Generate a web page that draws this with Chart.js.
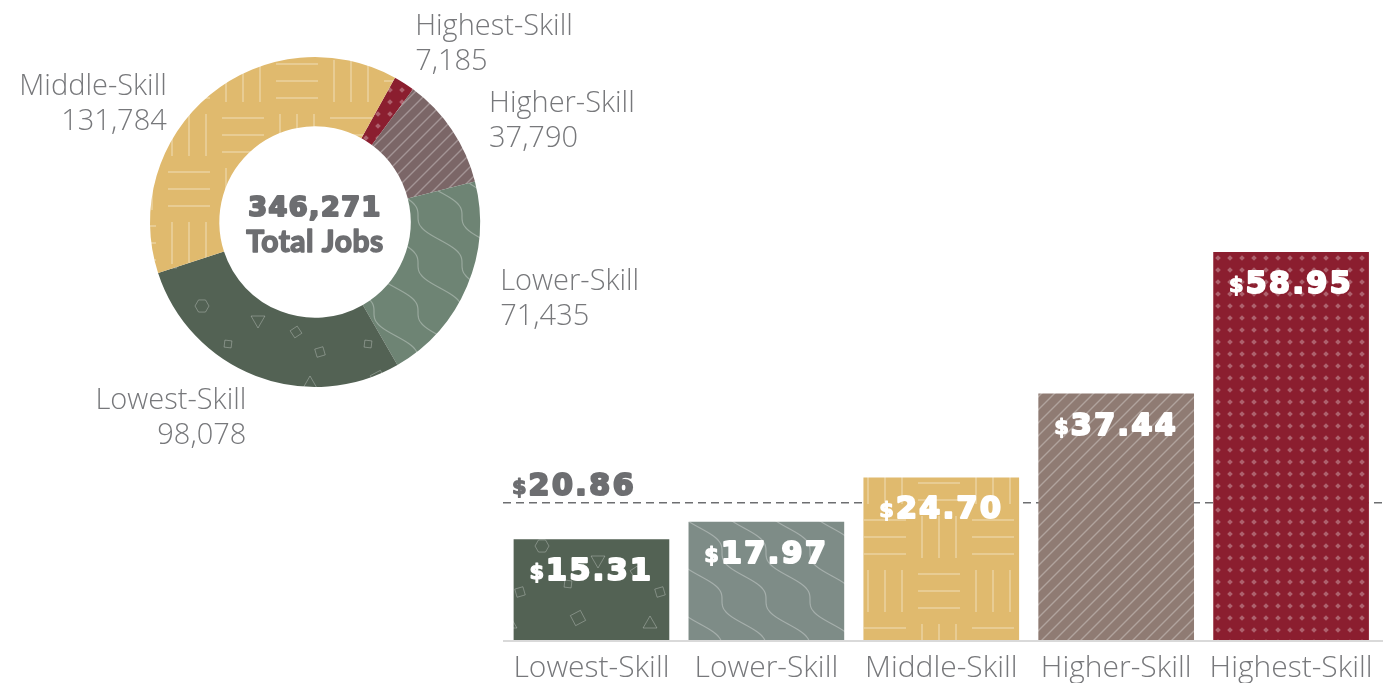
<!DOCTYPE html>
<html>
<head>
<meta charset="utf-8">
<script src="https://cdn.jsdelivr.net/npm/chart.js@4"></script>
<style>
  html, body { margin: 0; padding: 0; background: #fff; }
  body { width: 1383px; height: 683px; position: relative; overflow: hidden; }
  #donutWrap { position: absolute; left: 0; top: 0; width: 700px; height: 460px; }
  #barWrap { position: absolute; left: 480px; top: 240px; width: 903px; height: 456px; }
</style>
</head>
<body>
<div id="donutWrap"><canvas id="jobsDonut" width="700" height="460"></canvas></div>
<div id="barWrap"><canvas id="wageBars" width="903" height="456"></canvas></div>
<script>
// data
var categories = ["Lowest-Skill", "Lower-Skill", "Middle-Skill", "Higher-Skill", "Highest-Skill"];
var jobs = [98078, 71435, 131784, 37790, 7185];
var wages = [15.31, 17.97, 24.70, 37.44, 58.95];
var averageWage = 20.86;
var totalJobs = 346271;
// slice order in the doughnut, clockwise starting from the red slice
var donutOrder = [4, 3, 1, 0, 2];

// styles
var donutColors = ["#536254", "#6e8474", "#e0ba6e", "#7b6667", "#8b1e2f"];
var barColors = ["#536254", "#7e8c87", "#e0ba6e", "#8f7b73", "#8b1e2f"];
var labelColor = "#77787b";
var darkText = "#6d6e71";
var labelFamily = '"Open Sans", "Lato", sans-serif';
var labelFont = '300 29px ' + labelFamily;
// small nudges for the doughnut labels (x, y)
var labelNudge = [[3, 9], [1, -1], [-21, 36], [8, 10], [-8, -10]];

// ---- fill patterns ----
function tile(w, h, bg, draw) {
    var c = document.createElement("canvas");
    c.width = w; c.height = h;
    var g = c.getContext("2d");
    g.fillStyle = bg;
    g.fillRect(0, 0, w, h);
    draw(g, w, h);
    return g.createPattern(c, "repeat");
}

function poly(g, cx, cy, r, n, rot) {
    g.beginPath();
    for (var i = 0; i < n; i++) {
        var a = rot + i * 2 * Math.PI / n;
        var x = cx + r * Math.cos(a), y = cy + r * Math.sin(a);
        if (i === 0) g.moveTo(x, y); else g.lineTo(x, y);
    }
    g.closePath();
    g.stroke();
}

function shapes(g, w, h) {
    g.strokeStyle = "rgba(255,255,255,0.28)";
    g.lineWidth = 1;
    poly(g, 30, 24, 8, 3, -Math.PI / 2);
    poly(g, 98, 18, 8, 4, 0.3);
    poly(g, 62, 66, 7, 6, 0);
    poly(g, 16, 92, 6, 4, 0.2);
    poly(g, 118, 80, 8, 3, Math.PI / 2);
    poly(g, 88, 104, 5, 4, 0.9);
    poly(g, 40, 112, 6, 4, 0.5);
    poly(g, 130, 48, 5, 4, 0.1);
}

function waves(g, w, h) {
    g.strokeStyle = "rgba(255,255,255,0.3)";
    g.lineWidth = 1.2;
    for (var k = -2; k <= 2; k++) {
        g.beginPath();
        for (var y = -2; y <= h + 2; y++) {
            var x = k * w + (w / h) * y + 7 * Math.sin(2 * Math.PI * y / h);
            if (y === -2) g.moveTo(x, y); else g.lineTo(x, y);
        }
        g.stroke();
    }
}

function parquet(g, w, h) {
    g.strokeStyle = "rgba(255,255,255,0.35)";
    g.lineWidth = 1.5;
    var half = w / 2;
    var blocks = [[0, 0, true], [half, 0, false], [0, half, false], [half, half, true]];
    blocks.forEach(function(b) {
        [10, 27, 44].forEach(function(o) {
            g.beginPath();
            if (b[2]) { g.moveTo(b[0] + 6, b[1] + o); g.lineTo(b[0] + half - 6, b[1] + o); }
            else { g.moveTo(b[0] + o, b[1] + 6); g.lineTo(b[0] + o, b[1] + half - 6); }
            g.stroke();
        });
    });
}

function stripes(g, s) {
    g.strokeStyle = "rgba(255,255,255,0.3)";
    g.lineWidth = 1.4;
    [[0, s, s, 0], [-2, 2, 2, -2], [s - 2, s + 2, s + 2, s - 2]].forEach(function(l) {
        g.beginPath(); g.moveTo(l[0], l[1]); g.lineTo(l[2], l[3]); g.stroke();
    });
}

function diamonds(g, s) {
    g.fillStyle = "rgba(255,255,255,0.3)";
    var c = s / 2;
    g.beginPath();
    g.moveTo(c, c - 2.8); g.lineTo(c + 2.8, c); g.lineTo(c, c + 2.8); g.lineTo(c - 2.8, c);
    g.closePath(); g.fill();
}

function makeFills(colors) {
    return [
        tile(140, 120, colors[0], shapes),
        tile(44, 48, colors[1], waves),
        tile(108, 108, colors[2], parquet),
        tile(13, 13, colors[3], function(g) { stripes(g, 13); }),
        tile(12, 12, colors[4], function(g) { diamonds(g, 12); })
    ];
}

var donutFills = makeFills(donutColors);
var barFills = makeFills(barColors);

// heavy text: fill plus a stroke of the same colour
function heavyText(ctx, text, x, y, weight) {
    ctx.lineWidth = weight;
    ctx.lineJoin = "round";
    ctx.strokeStyle = ctx.fillStyle;
    ctx.strokeText(text, x, y);
    ctx.fillText(text, x, y);
}

function setSpacing(ctx, v) {
    if ("letterSpacing" in ctx) ctx.letterSpacing = v;
}

// ---- doughnut ----
var donutLabels = {
    id: "donutLabels",
    afterDraw: function(chart) {
        var ctx = chart.ctx;
        var meta = chart.getDatasetMeta(0);
        ctx.save();
        meta.data.forEach(function(arc, i) {
            var cat = donutOrder[i];
            var mid = (arc.startAngle + arc.endAngle) / 2;
            var r = arc.outerRadius + 35;
            var x = arc.x + Math.cos(mid) * r + labelNudge[cat][0];
            var y = arc.y + Math.sin(mid) * r + labelNudge[cat][1];
            ctx.font = labelFont;
            ctx.fillStyle = labelColor;
            ctx.textAlign = Math.cos(mid) >= 0 ? "left" : "right";
            ctx.textBaseline = "middle";
            ctx.fillText(categories[cat], x, y - 17);
            ctx.fillText(jobs[cat].toLocaleString("en-US"), x, y + 18);
        });
        // centre text
        var cx = meta.data[0].x, cy = meta.data[0].y;
        ctx.textAlign = "center";
        ctx.fillStyle = darkText;
        ctx.font = 'bold 27px "DejaVu Sans", sans-serif';
        setSpacing(ctx, "1.5px");
        heavyText(ctx, totalJobs.toLocaleString("en-US"), cx, cy - 13, 2.2);
        setSpacing(ctx, "0.5px");
        ctx.font = 'bold 30px "Lato", sans-serif';
        heavyText(ctx, "Total Jobs", cx, cy + 20, 1.5);
        setSpacing(ctx, "0px");
        ctx.restore();
    }
};

new Chart(document.getElementById("jobsDonut").getContext("2d"), {
    type: "doughnut",
    data: {
        labels: donutOrder.map(function(i) { return categories[i]; }),
        datasets: [{
            data: donutOrder.map(function(i) { return jobs[i]; }),
            backgroundColor: donutOrder.map(function(i) { return donutFills[i]; }),
            borderWidth: 0
        }]
    },
    options: {
        responsive: false,
        animation: false,
        events: [],
        rotation: 29,
        cutout: "58%",
        layout: { padding: { left: 150, right: 220, top: 57, bottom: 73 } },
        plugins: { legend: { display: false }, tooltip: { enabled: false } }
    },
    plugins: [donutLabels]
});

// ---- bars ----
var wageExtras = {
    id: "wageExtras",
    beforeDatasetsDraw: function(chart) {
        var ctx = chart.ctx, area = chart.chartArea;
        var y = chart.scales.y.getPixelForValue(averageWage);
        ctx.save();
        ctx.strokeStyle = "#6d6e71";
        ctx.lineWidth = 1.6;
        ctx.setLineDash([8, 5]);
        ctx.beginPath();
        ctx.moveTo(area.left - 1, y);
        ctx.lineTo(chart.width, y);
        ctx.stroke();
        ctx.setLineDash([]);
        drawMoney(ctx, averageWage, area.left + 8, y - 8, darkText, "left");
        ctx.restore();
    },
    afterDatasetsDraw: function(chart) {
        var ctx = chart.ctx, area = chart.chartArea;
        ctx.save();
        ctx.strokeStyle = "#d9d9d9";
        ctx.lineWidth = 2;
        ctx.beginPath();
        ctx.moveTo(area.left - 1, area.bottom + 1);
        ctx.lineTo(chart.width, area.bottom + 1);
        ctx.stroke();
        chart.getDatasetMeta(0).data.forEach(function(bar, i) {
            drawMoney(ctx, wages[i], bar.x, bar.y + 41, "#ffffff", "center");
        });
        ctx.restore();
    }
};

function drawMoney(ctx, value, x, baseline, color, align) {
    var num = value.toFixed(2);
    ctx.fillStyle = color;
    ctx.textBaseline = "alphabetic";
    ctx.textAlign = "left";
    ctx.font = 'bold 21px "DejaVu Sans", sans-serif';
    setSpacing(ctx, "0px");
    var w1 = ctx.measureText("$").width + 2;
    ctx.font = 'bold 30px "DejaVu Sans", sans-serif';
    setSpacing(ctx, "2.5px");
    var w2 = ctx.measureText(num).width;
    var start = align === "center" ? x - (w1 + w2) / 2 : x;
    heavyText(ctx, num, start + w1, baseline, 2.2);
    ctx.font = 'bold 21px "DejaVu Sans", sans-serif';
    setSpacing(ctx, "0px");
    heavyText(ctx, "$", start, baseline - 1, 1.2);
}

new Chart(document.getElementById("wageBars").getContext("2d"), {
    type: "bar",
    data: {
        labels: categories,
        datasets: [{
            data: wages,
            backgroundColor: barFills,
            borderWidth: 0,
            barPercentage: 0.89,
            categoryPercentage: 1
        }]
    },
    options: {
        responsive: false,
        animation: false,
        events: [],
        layout: { padding: { left: 24, right: 4, top: 12, bottom: 0 } },
        scales: {
            x: {
                grid: { display: false, drawTicks: false },
                border: { display: false },
                ticks: {
                    color: labelColor,
                    font: { family: labelFamily, size: 30, weight: 300 },
                    padding: 10,
                    maxRotation: 0
                }
            },
            y: {
                display: false,
                min: 0,
                max: Math.max.apply(null, wages)
            }
        },
        plugins: { legend: { display: false }, tooltip: { enabled: false } }
    },
    plugins: [wageExtras]
});
</script>
</body>
</html>
